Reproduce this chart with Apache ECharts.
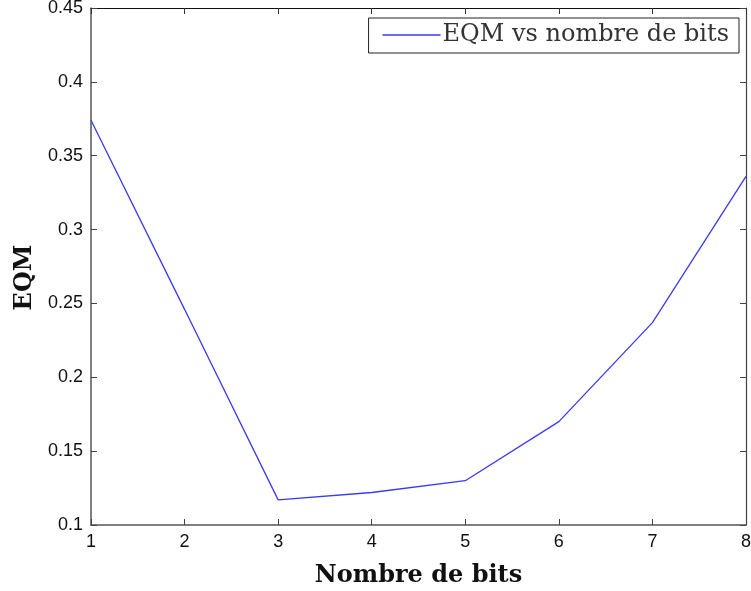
<!DOCTYPE html>
<html>
<head>
<meta charset="utf-8">
<script src="https://cdn.jsdelivr.net/npm/echarts@6/dist/echarts.min.js"></script>
<style>
  html, body { margin: 0; padding: 0; background: #fff; }
  #chart { width: 751px; height: 591px; }
</style>
</head>
<body>
<div id="chart"></div>
<script>
// Mean squared error as a function of the number of quantisation bits
const bits = [1, 2, 3, 4, 5, 6, 7, 8];
const eqm = [0.374, 0.246, 0.117, 0.122, 0.130, 0.170, 0.237, 0.336];
const seriesName = 'EQM vs nombre de bits';
const xTitle = 'Nombre de bits';
const yTitle = 'EQM';

const chart = echarts.init(document.getElementById('chart'));

const sansTick = { fontFamily: 'Liberation Sans, Arial, sans-serif', fontSize: 18, color: '#111' };
const serif = 'DejaVu Serif, Liberation Serif, serif';

chart.setOption({
  animation: false,
  backgroundColor: '#fff',
  grid: { left: 91, right: 5, top: 8, bottom: 66, containLabel: false, outerBoundsMode: 'none' },
  legend: {
    data: [seriesName],
    right: 12,
    top: 18,
    padding: [5, 10, 6, 14],
    borderColor: '#222',
    borderWidth: 1,
    backgroundColor: '#fff',
    icon: 'rect',
    itemWidth: 58,
    itemHeight: 1.4,
    itemGap: 4,
    textStyle: { fontFamily: serif, fontSize: 24, color: '#333', padding: [0, 0, 0, -3] }
  },
  xAxis: [
    {
      type: 'value', min: 1, max: 8, interval: 1,
      name: xTitle, nameLocation: 'middle', nameGap: 39,
      nameTextStyle: { fontFamily: serif, fontSize: 24, fontWeight: 'bold', color: '#111' },
      axisLine: { show: true, onZero: false, lineStyle: { color: '#555', width: 1.5 } },
      axisTick: { show: true, inside: true, length: 6, lineStyle: { color: '#444' } },
      axisLabel: Object.assign({ margin: 8 }, sansTick),
      splitLine: { show: false }
    },
    {
      type: 'value', min: 1, max: 8, interval: 1, position: 'top',
      axisLine: { show: true, onZero: false, lineStyle: { color: '#111', width: 1.2 } },
      axisTick: { show: true, inside: true, length: 6, lineStyle: { color: '#333' } },
      axisLabel: { show: false },
      splitLine: { show: false }
    }
  ],
  yAxis: [
    {
      type: 'value', min: 0.1, max: 0.45, interval: 0.05,
      name: yTitle, nameLocation: 'middle', nameGap: 54, nameRotate: 90,
      nameTextStyle: { fontFamily: serif, fontSize: 24, fontWeight: 'bold', color: '#111', padding: [0, 22, 0, 0] },
      axisLine: { show: true, onZero: false, lineStyle: { color: '#555', width: 1.5 } },
      axisTick: { show: true, inside: true, length: 6, lineStyle: { color: '#444' } },
      axisLabel: Object.assign({ margin: 8, formatter: v => String(+v.toFixed(2)) }, sansTick),
      splitLine: { show: false }
    },
    {
      type: 'value', min: 0.1, max: 0.45, interval: 0.05, position: 'right',
      axisLine: { show: true, onZero: false, lineStyle: { color: '#444', width: 1.2 } },
      axisTick: { show: true, inside: true, length: 6, lineStyle: { color: '#444' } },
      axisLabel: { show: false },
      splitLine: { show: false }
    }
  ],
  series: [
    {
      name: seriesName,
      type: 'line',
      xAxisIndex: 0,
      yAxisIndex: 0,
      data: bits.map((b, i) => [b, eqm[i]]),
      symbol: 'none',
      lineStyle: { color: '#3a3af0', width: 1.3 },
      itemStyle: { color: '#3a3af0' }
    }
  ]
});
</script>
</body>
</html>
